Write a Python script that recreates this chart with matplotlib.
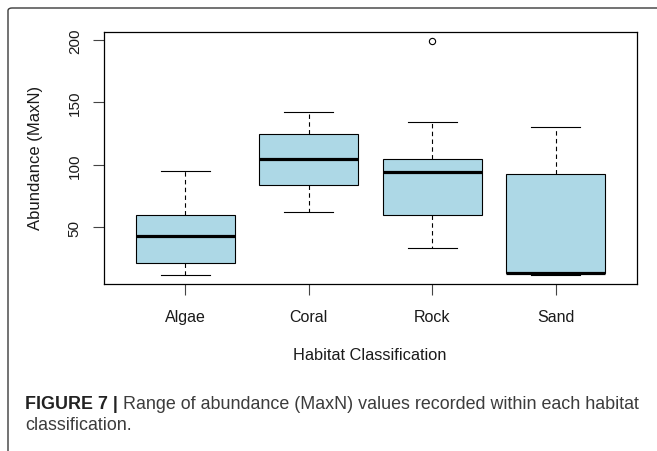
import matplotlib
matplotlib.use("Agg")
import matplotlib.pyplot as plt
from matplotlib import font_manager
from matplotlib.patches import FancyBboxPatch

# ---- data ----
categories = ["Algae", "Coral", "Rock", "Sand"]
whislo = [12, 62, 33, 12]
q1 = [21, 84, 60, 13]
med = [43, 105, 94, 13]
q3 = [60, 125, 105, 93]
whishi = [95, 142, 134, 130]
fliers = [[], [], [199], []]
yticks = [50, 100, 150, 200]
ylabel = "Abundance (MaxN)"
xlabel = "Habitat Classification"
caption_bold = "FIGURE 7 |"
caption_rest = " Range of abundance (MaxN) values recorded within each habitat"
caption_line2 = "classification."

names = {f.name for f in font_manager.fontManager.ttflist}
narrow = "Liberation Sans Narrow" if "Liberation Sans Narrow" in names else "Liberation Sans"
plt.rcParams["font.family"] = ["Liberation Sans", "DejaVu Sans"]

W, H = 657, 452
fig = plt.figure(figsize=(W / 100, H / 100), dpi=100)

# outer frame (rounded, extending beyond right/bottom edges)
frame = FancyBboxPatch((8 / W, -0.1), 1.2, 1 - 9 / H + 0.1,
                       boxstyle="round,pad=0,rounding_size=0.006",
                       transform=fig.transFigure, fill=False,
                       edgecolor="#3a3a3a", linewidth=1.0, clip_on=False)
fig.patches.append(frame)

ax = fig.add_axes([104 / W, 1 - 285 / H, (637 - 104) / W, (285 - 33) / H])

stats = []
for i, c in enumerate(categories):
    stats.append(dict(label=c, whislo=whislo[i], q1=q1[i], med=med[i],
                      q3=q3[i], whishi=whishi[i], fliers=fliers[i]))

ax.bxp(stats, positions=range(1, len(categories) + 1), widths=0.8,
       capwidths=0.4, patch_artist=True,
       boxprops=dict(facecolor="#ADD8E6", edgecolor="black", linewidth=0.8),
       medianprops=dict(color="black", linewidth=2.3, solid_capstyle="butt"),
       whiskerprops=dict(color="black", linewidth=0.8, linestyle=(0, (4, 3))),
       capprops=dict(color="black", linewidth=0.8),
       flierprops=dict(marker="o", markerfacecolor="none", markeredgecolor="black",
                       markersize=4.5, markeredgewidth=0.8))

allv = whislo + whishi + [v for f in fliers for v in f]
lo, hi = min(allv), max(allv)
pad = 0.04 * (hi - lo)
ax.set_ylim(lo - pad, hi + pad)
n = len(categories)
ax.set_xlim(0.5 - 0.04 * n, n + 0.5 + 0.04 * n)

ax.set_yticks(yticks)
ax.set_yticklabels([str(v) for v in yticks], rotation=90, va="center",
                   fontsize=11, family=narrow, color="#1a1a1a")
ax.set_xticks(range(1, n + 1))
ax.set_xticklabels(categories, fontsize=11.5, color="#1a1a1a")
ax.tick_params(axis="x", length=8, width=0.8, pad=10, color="#444444")
ax.tick_params(axis="y", length=8, width=0.8, pad=8, color="#444444")
for s in ax.spines.values():
    s.set_linewidth(0.9)
    s.set_color("black")

fig.text(36 / W, 1 - 158 / H, ylabel, rotation=90, ha="center", va="center",
         fontsize=12, color="#1a1a1a")
fig.text(370 / W, 1 - 355 / H, xlabel, ha="center", va="center", fontsize=11.8,
         color="#1a1a1a")

t1 = fig.text(25 / W, 1 - 405 / H, caption_bold, ha="left", va="center",
              fontsize=12.9, fontweight="bold", color="#222222")
ax.annotate(caption_rest, xy=(1, 0), xycoords=t1, ha="left", va="bottom",
            fontsize=12.9, color="#3c3c3c", annotation_clip=False)
fig.text(25 / W, 1 - 426 / H, caption_line2, ha="left", va="center",
         fontsize=12.9, color="#3c3c3c")

fig.savefig("out.png", dpi=100)
